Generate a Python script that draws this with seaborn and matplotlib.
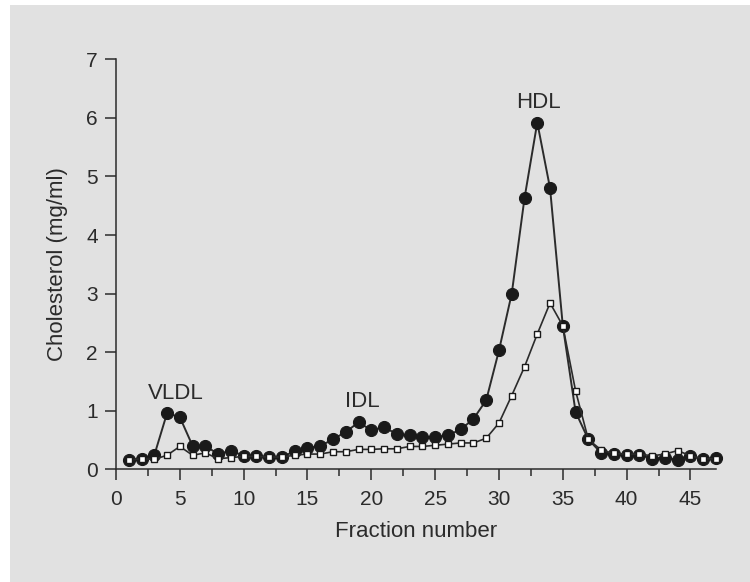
import matplotlib
matplotlib.use("Agg")
import matplotlib.pyplot as plt
import matplotlib.patches as mpatches
from matplotlib.ticker import MultipleLocator
import seaborn as sns
import pandas as pd

fractions = list(range(1, 48))
filled = [0.16, 0.18, 0.24, 0.96, 0.89, 0.40, 0.40, 0.26, 0.32, 0.23,
          0.22, 0.21, 0.21, 0.31, 0.36, 0.40, 0.51, 0.64, 0.80, 0.67,
          0.72, 0.60, 0.58, 0.55, 0.55, 0.58, 0.68, 0.86, 1.18, 2.03,
          3.00, 4.63, 5.92, 4.80, 2.45, 0.98, 0.51, 0.28, 0.26, 0.25,
          0.25, 0.18, 0.20, 0.16, 0.23, 0.17, 0.20]
open_sq = [0.16, 0.18, 0.17, 0.24, 0.39, 0.24, 0.28, 0.18, 0.20, 0.22,
           0.22, 0.21, 0.21, 0.24, 0.26, 0.26, 0.30, 0.30, 0.34, 0.34,
           0.35, 0.35, 0.39, 0.39, 0.41, 0.43, 0.45, 0.45, 0.53, 0.79,
           1.26, 1.75, 2.31, 2.84, 2.45, 1.34, 0.51, 0.33, 0.27, 0.26,
           0.26, 0.23, 0.26, 0.32, 0.23, 0.18, 0.18]
peak_labels = ["VLDL", "IDL", "HDL"]
peak_x = [4.67, 19.33, 33.06]
peak_y = [1.29, 1.15, 6.27]
x_ticks = [0, 5, 10, 15, 20, 25, 30, 35, 40, 45]
y_ticks = [0, 1, 2, 3, 4, 5, 6, 7]

sns.set_theme(style="ticks")
plt.rcParams["font.family"] = ["Liberation Sans", "DejaVu Sans"]

BG = "#e1e1e1"
INK = "#2b2b2b"

fig = plt.figure(figsize=(7.5, 5.82), dpi=100, facecolor=BG)
# white strips on the left and top edges
fig.patches.append(mpatches.Rectangle((0, 0), 10 / 750, 1, transform=fig.transFigure,
                                      facecolor="white", edgecolor="none", zorder=-10))
fig.patches.append(mpatches.Rectangle((0, 1 - 5 / 582), 1, 5 / 582, transform=fig.transFigure,
                                      facecolor="white", edgecolor="none", zorder=-10))
ax = fig.add_axes([116 / 750, 112.7 / 582, 600 / 750, 410 / 582])
ax.set_facecolor("none")

df = pd.DataFrame({"fraction": fractions, "filled": filled, "open": open_sq})

sns.lineplot(data=df, x="fraction", y="filled", ax=ax, color=INK, lw=1.4,
             marker="o", markersize=8.7, markerfacecolor="#1a1a1a",
             markeredgecolor="#1a1a1a", zorder=2, clip_on=False)
sns.lineplot(data=df, x="fraction", y="open", ax=ax, color=INK, lw=1.2,
             marker="s", markersize=5, markerfacecolor="white",
             markeredgecolor="#1a1a1a", markeredgewidth=1.0, zorder=3,
             clip_on=False)

for lab, px, py in zip(peak_labels, peak_x, peak_y):
    ax.text(px, py, lab, ha="center", va="center", fontsize=16, color=INK)

ax.set_xlim(0, 47)
ax.set_ylim(0, 7)
ax.set_xticks(x_ticks)
ax.set_yticks(y_ticks)
ax.xaxis.set_minor_locator(MultipleLocator(2.5))
ax.tick_params(axis="both", which="major", direction="out", length=8,
               width=1.1, color=INK, labelcolor=INK, labelsize=15)
ax.tick_params(axis="x", which="major", pad=7)
ax.tick_params(axis="y", which="major", pad=5)
ax.tick_params(axis="x", which="minor", direction="out", length=5,
               width=1.1, color=INK)
for side in ["top", "right"]:
    ax.spines[side].set_visible(False)
for side in ["left", "bottom"]:
    ax.spines[side].set_color(INK)
    ax.spines[side].set_linewidth(1.1)

ax.set_xlabel("Fraction number", fontsize=16, color=INK)
ax.set_ylabel("Cholesterol (mg/ml)", fontsize=16, color=INK)
ax.xaxis.set_label_coords(0.5, -52 / 410)
ax.yaxis.set_label_coords(-48 / 600, 0.5)

fig.savefig("out.png", dpi=100, facecolor=BG)
